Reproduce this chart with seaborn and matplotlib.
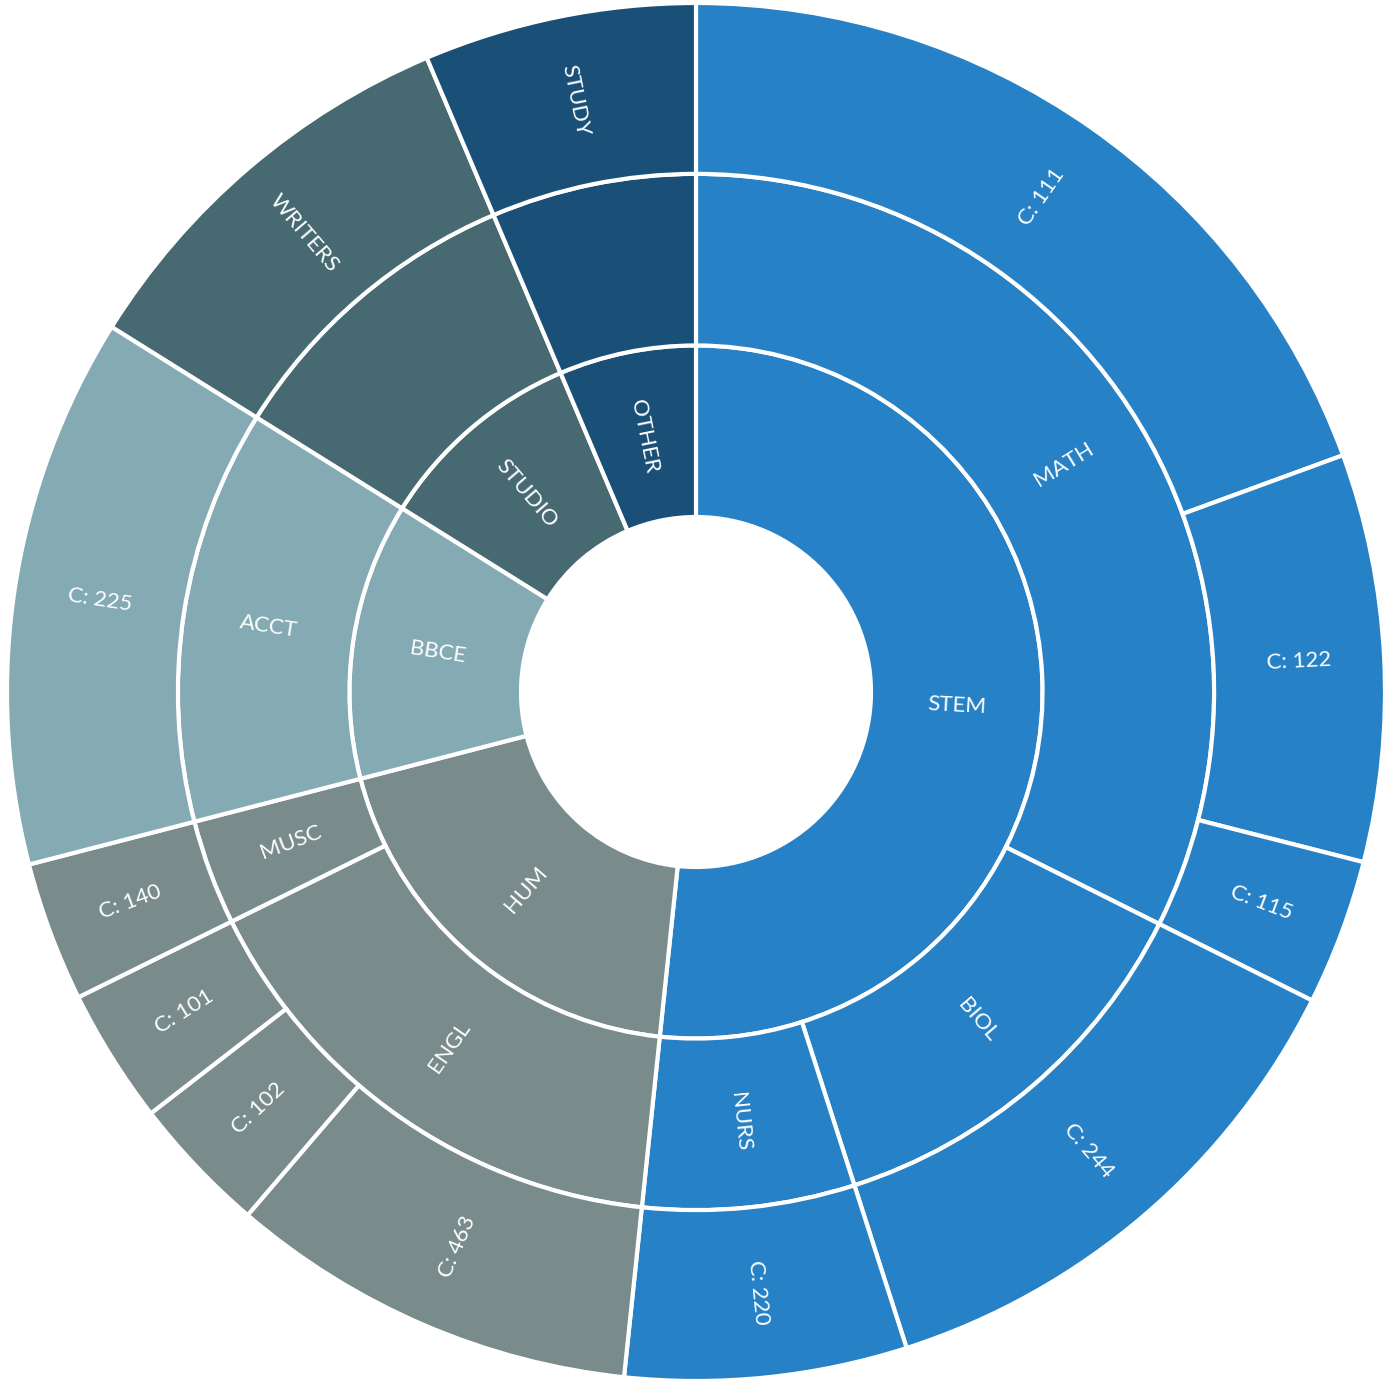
import numpy as np
import matplotlib
matplotlib.use("Agg")
import matplotlib.pyplot as plt
import seaborn as sns

# ---- data ----
level1_labels = ["STEM", "HUM", "BBCE", "STUDIO", "OTHER"]
level1_colors = ["#2781C6", "#7A8B8B", "#84AAB3", "#476A72", "#1A4F78"]

level2_labels = ["MATH", "BIOL", "NURS", "ENGL", "MUSC", "ACCT", "", ""]
level2_parent = ["STEM", "STEM", "STEM", "HUM", "HUM", "BBCE", "STUDIO", "OTHER"]

level3_labels = ["C: 111", "C: 122", "C: 115", "C: 244", "C: 220",
                 "C: 463", "C: 102", "C: 101", "C: 140", "C: 225",
                 "WRITERS", "STUDY"]
level3_parent = [0, 0, 0, 1, 2, 3, 3, 3, 4, 5, 6, 7]  # index into level2
level3_values = [69.9, 34.4, 12.3, 45.6, 23.8,
                 34.6, 11.7, 11.4, 11.8, 46.5, 35.0, 23.0]

# ---- aggregate ----
l2_values = [sum(v for v, k in zip(level3_values, level3_parent) if k == i)
             for i in range(len(level2_labels))]
l1_values = [sum(v for v, p in zip(l2_values, level2_parent) if p == name)
             for name in level1_labels]
color_of = dict(zip(level1_labels, level1_colors))
l2_colors = [color_of[p] for p in level2_parent]
l3_colors = [l2_colors[k] for k in level3_parent]

sns.set_theme(style="white")
plt.rcParams['font.family'] = ['Lato', 'DejaVu Sans']

fig = plt.figure(figsize=(13.85, 13.85), dpi=100)
ax = fig.add_axes([0, 0, 1, 1])

r0, r1, r2, r3 = 0.254, 0.503, 0.752, 1.0
wp = dict(edgecolor="white", linewidth=3, antialiased=True)

rings = [
    (l1_values, level1_colors, level1_labels, r1, r1 - r0),
    (l2_values, l2_colors, level2_labels, r2, r2 - r1),
    (level3_values, l3_colors, level3_labels, r3, r3 - r2),
]
for vals, cols, labs, R, w in rings:
    ax.pie(vals, radius=R, colors=cols, startangle=90, counterclock=False,
           wedgeprops=dict(width=w, **wp))
    total = sum(vals)
    cum = 0.0
    rmid = R - w / 2
    for v, lab in zip(vals, labs):
        mid = (cum + v / 2) / total * 360.0  # clockwise from top
        cum += v
        if not lab:
            continue
        th = np.deg2rad(90 - mid)
        x, y = rmid * np.cos(th), rmid * np.sin(th)
        rot = 90 - mid
        while rot <= -90:
            rot += 180
        while rot > 90:
            rot -= 180
        ax.text(x, y, lab, ha="center", va="center", rotation=rot,
                rotation_mode="anchor", color="white", fontsize=16)

ax.set_xlim(-696 / 689, 689 / 689)
ax.set_ylim(-693 / 689, 692 / 689)
ax.set_aspect("equal")
ax.axis("off")
fig.savefig("out.png", dpi=100, facecolor="white")
